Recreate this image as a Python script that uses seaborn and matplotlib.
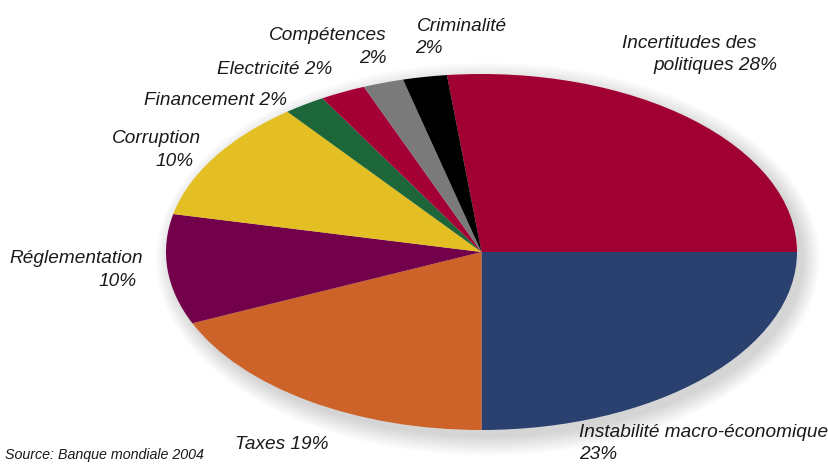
import matplotlib
matplotlib.use("Agg")
import matplotlib.pyplot as plt
from matplotlib.patches import Ellipse
import seaborn as sns

# ---- data ----
categories = ["Incertitudes des politiques", "Instabilité macro-économique", "Taxes",
              "Réglementation", "Corruption", "Financement", "Electricité",
              "Compétences", "Criminalité"]
published_pct = [28, 23, 19, 10, 10, 2, 2, 2, 2]
# wedge shares as drawn in the picture (%)
wedge_shares = [26.75, 25.0, 18.45, 9.97, 11.03, 2.14, 2.33, 2.08, 2.25]
colors = ["#A10033", "#2A4170", "#CD6328", "#73004A", "#E4BF23",
          "#1D6639", "#A50035", "#7A7A7A", "#000000"]
source_text = "Source: Banque mondiale 2004"

sns.set_theme(style="white")
plt.rcParams["font.family"] = ["Liberation Sans Narrow", "Liberation Sans", "DejaVu Sans"]

W, H = 829, 468
fig = plt.figure(figsize=(W / 100, H / 100), dpi=100)
fig.patch.set_facecolor("white")

# pie ellipse: x 166..797, y 74..430 (pixels)
x0, x1, y0, y1 = 166, 797, 74, 430
ax = fig.add_axes([x0 / W, 1 - y1 / H, (x1 - x0) / W, (y1 - y0) / H])

# soft shadow (bottom-right)
for k in range(14):
    ax.add_patch(Ellipse((0.02, -0.04), 2 * (1 + 0.004 * k), 2 * (1 + 0.008 * k),
                         facecolor="#000000", alpha=0.011, lw=0, zorder=0,
                         clip_on=False))

palette = sns.color_palette(colors)
wedges, _ = ax.pie(wedge_shares, colors=palette, startangle=96.3, counterclock=False,
                   wedgeprops=dict(linewidth=0, antialiased=True), radius=1.0)
for w in wedges:
    w.set_zorder(2)
    w.set_clip_on(False)
ax.set_aspect("auto")
ax.set_xlim(-1, 1)
ax.set_ylim(-1, 1)
ax.axis("off")

tc = "#1a1a1a"
fs = 13.7


def put(txt, x, y, ha="left", size=fs):
    fig.text(x / W, 1 - y / H, txt, ha=ha, va="baseline", fontsize=size,
             style="italic", color=tc)


lab = dict(zip(categories, published_pct))
put("Incertitudes des", 622, 48)
put(f"politiques {lab['Incertitudes des politiques']}%", 653, 70)
put("Instabilité macro-économique", 579, 437)
put(f"{lab['Instabilité macro-économique']}%", 579, 459)
put(f"Taxes {lab['Taxes']}%", 235, 449)
put("Réglementation", 143, 263, ha="right")
put(f"{lab['Réglementation']}%", 137, 286, ha="right")
put("Corruption", 201, 143, ha="right")
put(f"{lab['Corruption']}%", 194, 166, ha="right")
put(f"Financement {lab['Financement']}%", 287, 105, ha="right")
put(f"Electricité {lab['Electricité']}%", 332, 74, ha="right")
put("Compétences", 387, 40, ha="right")
put(f"{lab['Compétences']}%", 387, 63, ha="right")
put("Criminalité", 417, 31)
put(f"{lab['Criminalité']}%", 415, 53)
put(source_text, 5, 459, size=10.3)

fig.savefig("out.png", dpi=100, facecolor="white")
